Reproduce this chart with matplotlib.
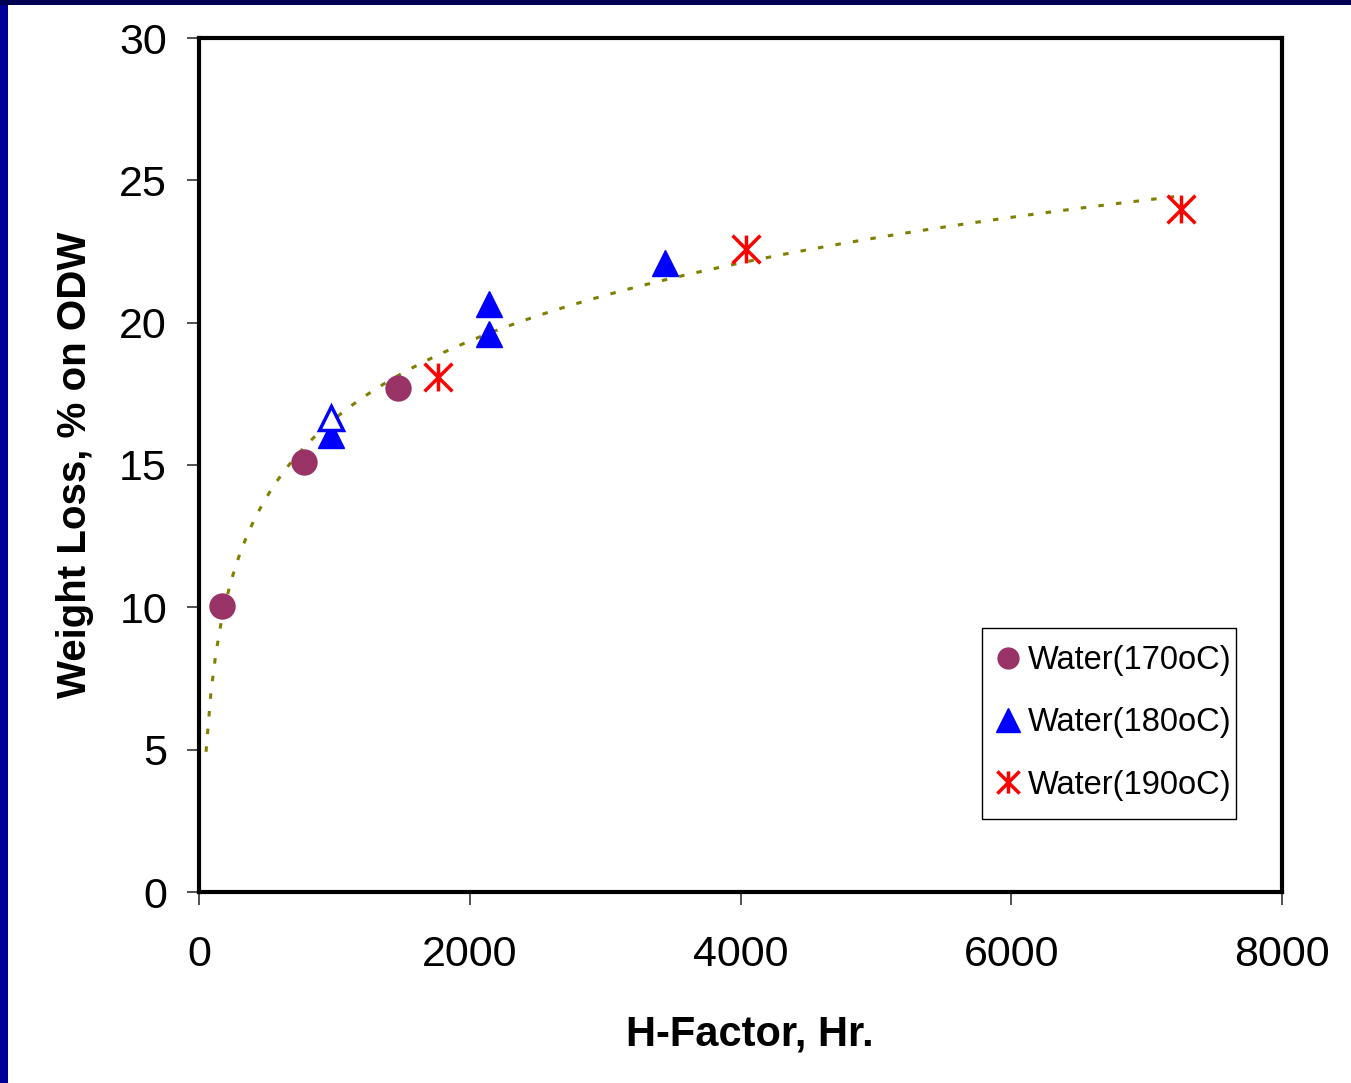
import numpy as np
import matplotlib
matplotlib.use('Agg')
import matplotlib.pyplot as plt
from matplotlib.path import Path
from matplotlib.lines import Line2D
from matplotlib.patches import Rectangle

plt.rcParams['font.family'] = ['Liberation Sans', 'DejaVu Sans']

# H-factor (hr) and weight loss (% on ODW) for each cooking temperature
h170 = [170, 775, 1470]
w170 = [10.05, 15.1, 17.7]

h180 = [975, 2142, 2142, 3442]
w180 = [16.05, 20.65, 19.6, 22.1]

# open triangle (180oC, drawn hollow)
h180_open = [975]
w180_open = [16.65]

h190 = [1765, 4040, 7253]
w190 = [18.1, 22.6, 24.0]

x_ticks = [0, 2000, 4000, 6000, 8000]
y_ticks = [0, 5, 10, 15, 20, 25, 30]

# logarithmic trendline fitted on all the points, like the spreadsheet one
all_h = np.array(h170 + h180 + h180_open + h190, dtype=float)
all_w = np.array(w170 + w180 + w180_open + w190, dtype=float)
slope, intercept = np.polyfit(np.log(all_h), all_w, 1)
trend_x = np.linspace(52, max(all_h), 200)
trend_y = slope * np.log(trend_x) + intercept

# excel style "star" marker: vertical bar + X
star = Path([(0, -1), (0, 1), (-1, -1), (1, 1), (-1, 1), (1, -1)],
            [Path.MOVETO, Path.LINETO, Path.MOVETO, Path.LINETO, Path.MOVETO, Path.LINETO])

W, H = 1351, 1083
fig = plt.figure(figsize=(W / 100, H / 100), dpi=100)
fig.patch.set_facecolor('white')

# navy frame on the left / top edge of the slide
fig.add_artist(Rectangle((0, 0), 8 / W, 1, transform=fig.transFigure,
                         facecolor='#000099', edgecolor='none', zorder=10))
fig.add_artist(Rectangle((0, 1 - 5 / H), 1, 5 / H, transform=fig.transFigure,
                         facecolor='#000055', edgecolor='none', zorder=10))

ax = fig.add_axes([199 / W, 1 - 892 / H, (1282 - 199) / W, (892 - 38) / H])

ax.plot(trend_x, trend_y, color='#808000', lw=2.2, linestyle=(0, (1.8, 4)), zorder=2)

ax.plot(h170, w170, linestyle='none', marker='o', ms=18, color='#993366', mec='#993366', zorder=3)
ax.plot(h180, w180, linestyle='none', marker='^', ms=19, color='#0000FF', mec='#0000FF', zorder=3)
ax.plot(h180_open, w180_open, linestyle='none', marker='^', ms=17, mfc='white', mec='#0000FF',
        mew=2.5, zorder=3)
ax.plot(h190, w190, linestyle='none', marker=star, ms=20, color='#FF0000', mew=2.5, zorder=3)

ax.set_xlim(0, 8000)
ax.set_ylim(0, 30)
ax.set_xticks(x_ticks)
ax.set_yticks(y_ticks)
ax.tick_params(axis='both', direction='out', length=9, width=1.2, color='#333333',
               labelsize=31, pad=14)
ax.tick_params(axis='x', pad=22)
for side in ['left', 'right', 'top', 'bottom']:
    ax.spines[side].set_linewidth(3)
    ax.spines[side].set_color('black')

ax.set_xlabel('H-Factor, Hr.', fontsize=30, fontweight='bold')
ax.xaxis.set_label_coords((750 - 199) / (1282 - 199), -(1014 - 892) / (892 - 38))
ax.set_ylabel('Weight Loss, % on ODW', fontsize=29, fontweight='bold', labelpad=18)

# legend frame drawn on its own so the box matches the original size
ax.add_patch(Rectangle((982 / W, 1 - 819 / H), (1236 - 982) / W, (819 - 628) / H,
                       transform=fig.transFigure, facecolor='white', edgecolor='black',
                       lw=1, zorder=4, clip_on=False))
handles = [
    Line2D([], [], linestyle='none', marker='o', ms=15, color='#993366'),
    Line2D([], [], linestyle='none', marker='^', ms=17, color='#0000FF'),
    Line2D([], [], linestyle='none', marker=star, ms=16, color='#FF0000', mew=2.5),
]
labels = ['Water(170oC)', 'Water(180oC)', 'Water(190oC)']
leg = ax.legend(handles, labels, loc='center left', bbox_to_anchor=(982 / W, 1 - 723 / H),
                bbox_transform=fig.transFigure, fontsize=23.5, frameon=False,
                handlelength=1.1, handletextpad=0.06, labelspacing=0.95,
                borderpad=0.25, borderaxespad=0)
leg.set_zorder(5)

fig.savefig('out.png', dpi=100)
